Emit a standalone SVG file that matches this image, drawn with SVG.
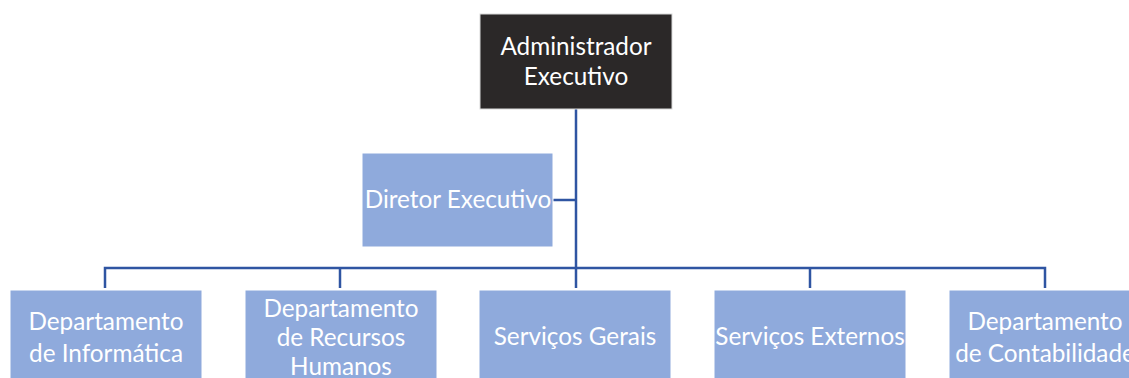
<svg xmlns="http://www.w3.org/2000/svg" width="1129" height="378" viewBox="0 0 1129 378">
<style>
.box{fill:#8faadc;stroke:#ffffff;stroke-width:1}
.top{fill:#2b2828;stroke:#d9d9d9;stroke-width:1}
text{font-family:Lato,"Open Sans",sans-serif;font-size:24.3px;fill:#ffffff;text-anchor:middle}
.conn{stroke:#2f55a2;stroke-width:2.5;fill:none}
</style>
<rect width="1129" height="378" fill="#ffffff"/>
<g id="connectors">
<path class="conn" d="M576,109 V268"/>
<path class="conn" d="M553,200 H576"/>
<path class="conn" d="M105,288 V268 H1045 V288"/>
<path class="conn" d="M340,268 V288"/>
<path class="conn" d="M576,268 V288"/>
<path class="conn" d="M810,268 V288"/>
</g>
<g id="admin">
<rect class="top" x="480" y="14" width="192" height="95"/>
<text x="576" y="55">Administrador</text>
<text x="576" y="85">Executivo</text>
</g>
<g id="diretor">
<rect class="box" x="362" y="153" width="191" height="94"/>
<text x="458" y="208">Diretor Executivo</text>
</g>
<g id="informatica">
<rect class="box" x="10" y="290" width="192" height="96"/>
<text x="106" y="330">Departamento</text>
<text x="106" y="362">de Informática</text>
</g>
<g id="rh">
<rect class="box" x="245" y="290" width="192" height="96"/>
<text x="341" y="317">Departamento</text>
<text x="341" y="346">de Recursos</text>
<text x="341" y="375">Humanos</text>
</g>
<g id="gerais">
<rect class="box" x="479" y="290" width="192" height="96"/>
<text x="575" y="345">Serviços Gerais</text>
</g>
<g id="externos">
<rect class="box" x="714" y="290" width="192" height="96"/>
<text x="810" y="345">Serviços Externos</text>
</g>
<g id="contabilidade">
<rect class="box" x="949" y="290" width="192" height="96"/>
<text x="1045" y="330">Departamento</text>
<text x="1045" y="362">de Contabilidade</text>
</g>
</svg>
